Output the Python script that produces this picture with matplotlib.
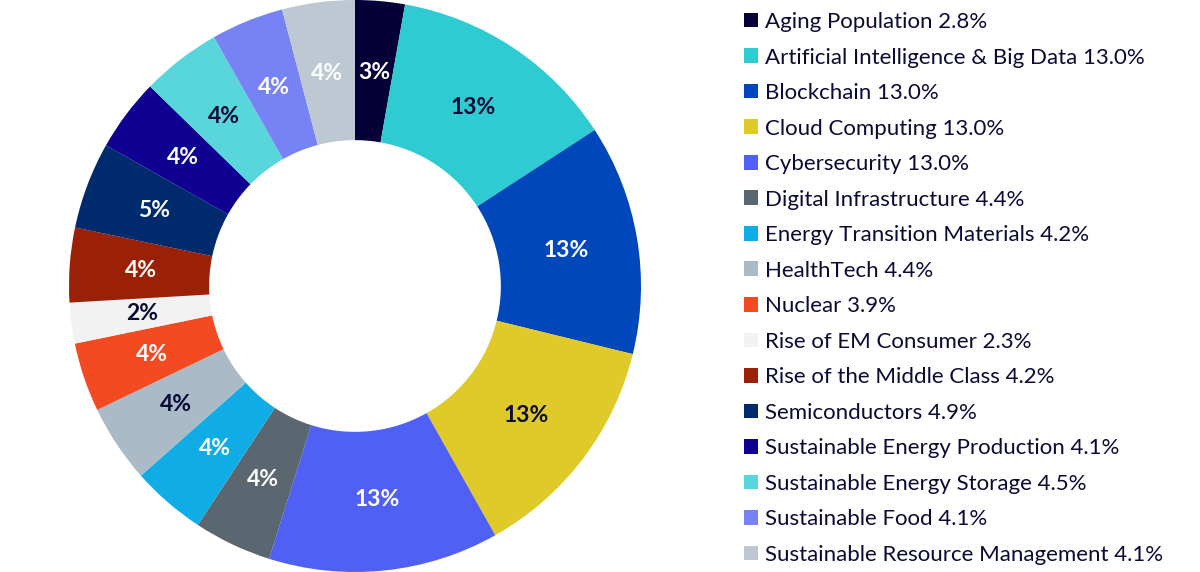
import matplotlib.pyplot as plt
import numpy as np
from matplotlib.patches import Patch

plt.rcParams["font.family"] = ["Lato", "DejaVu Sans"]

themes = [
    "Aging Population",
    "Artificial Intelligence & Big Data",
    "Blockchain",
    "Cloud Computing",
    "Cybersecurity",
    "Digital Infrastructure",
    "Energy Transition Materials",
    "HealthTech",
    "Nuclear",
    "Rise of EM Consumer",
    "Rise of the Middle Class",
    "Semiconductors",
    "Sustainable Energy Production",
    "Sustainable Energy Storage",
    "Sustainable Food",
    "Sustainable Resource Management",
]
weights = [2.8, 13.0, 13.0, 13.0, 13.0, 4.4, 4.2, 4.4, 3.9, 2.3, 4.2, 4.9, 4.1, 4.5, 4.1, 4.1]
slice_labels = ["3%", "13%", "13%", "13%", "13%", "4%", "4%", "4%",
                "4%", "2%", "4%", "5%", "4%", "4%", "4%", "4%"]
colors = ["#050038", "#2ECBD3", "#0047BB", "#DFCA2A", "#5060F5", "#5A6670",
          "#10ACE6", "#AABAC6", "#F44A22", "#F2F2F2", "#9A2107", "#002A6E",
          "#0F0092", "#58D6DC", "#7782F5", "#BDC8D3"]
label_colors = ["white", "#0a0a35", "white", "#0a0a35", "white", "white",
                "white", "#0a0a35", "white", "#0a0a35", "white", "white",
                "white", "#0a0a35", "white", "white"]

text_color = "#0a0a35"

fig = plt.figure(figsize=(12, 5.72), dpi=100)
ax = fig.add_axes([69 / 1200, 0, 572 / 1200, 1])

wedges, texts = ax.pie(
    weights,
    colors=colors,
    startangle=90,
    counterclock=False,
    radius=1.0,
    wedgeprops=dict(width=0.49, linewidth=0),
)
ax.set_xlim(-1, 1)
ax.set_ylim(-1, 1)
ax.set_aspect("equal")
ax.axis("off")

# percentage labels in the middle of the ring
for w, lab, lc in zip(wedges, slice_labels, label_colors):
    ang = np.deg2rad((w.theta1 + w.theta2) / 2)
    r = 0.75
    ax.text(r * np.cos(ang), r * np.sin(ang), lab, ha="center", va="center",
            fontsize=16.5, fontweight="bold", color=lc)

handles = [Patch(facecolor=c, edgecolor="none") for c in colors]
legend_labels = [f"{t} {v:.1f}%" for t, v in zip(themes, weights)]
leg = fig.legend(
    handles, legend_labels,
    loc="upper left",
    bbox_to_anchor=(744 / 1200, 1 - 12 / 572),
    frameon=False,
    fontsize=16,
    handlelength=0.63,
    handleheight=0.63,
    handletextpad=0.32,
    labelspacing=0.698,
    borderpad=0,
    borderaxespad=0,
)
for t in leg.get_texts():
    t.set_color(text_color)

fig.savefig("out.png", dpi=100)
